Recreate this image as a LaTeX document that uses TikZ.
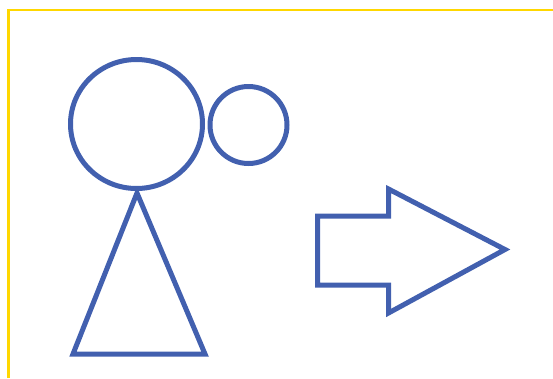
\documentclass[tikz,border=0pt]{standalone}
\usepackage{tikz}
\definecolor{shapeblue}{RGB}{66,96,175}
\definecolor{frameyellow}{RGB}{255,215,0}

\begin{document}
\begin{tikzpicture}[x=1pt, y=-1pt,
      outline/.style={draw=shapeblue, line width=5pt, line join=miter},
      frame/.style={draw=frameyellow, line width=2.6pt}]
    \useasboundingbox (0,0) rectangle (553,378);
    % frame
    \coordinate (framebot) at (8.5,378);
    \coordinate (frameright) at (553,10);
    \draw[frame] (framebot) |- (frameright);
    % head and small circle
    \coordinate (head) at (136.5,124);
    \coordinate (ball) at (248.5,125);
    \draw[outline] (head) ellipse[x radius=66, y radius=64.5];
    \draw[outline] (ball) circle[radius=38.5];
    % body
    \coordinate (apex) at (137,193);
    \coordinate (baseR) at (205,354);
    \coordinate (baseL) at (73,354);
    \draw[outline] (apex) -- (baseR) -- (baseL) -- cycle;
    % arrow
    \coordinate (shaftTL) at (317.5,216);
    \coordinate (shaftTR) at (388.5,216);
    \coordinate (headT)   at (388.5,189);
    \coordinate (tip)     at (505,249.5);
    \coordinate (headB)   at (388.5,313);
    \coordinate (shaftBR) at (388.5,285);
    \coordinate (shaftBL) at (317.5,285);
    \draw[outline] (shaftTL) -- (shaftTR) -- (headT) -- (tip) -- (headB)
      -- (shaftBR) -- (shaftBL) -- cycle;
\end{tikzpicture}
\end{document}
